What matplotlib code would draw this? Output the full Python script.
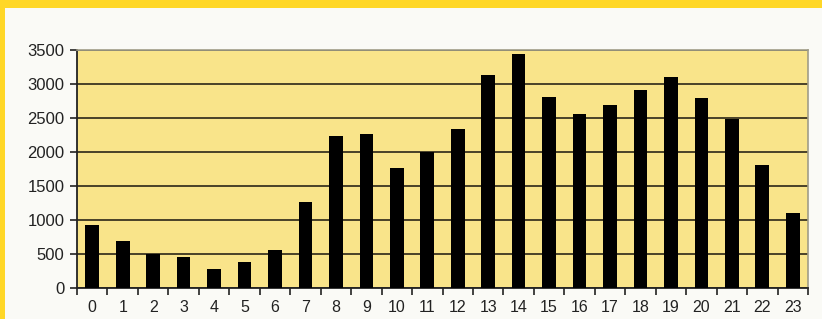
import matplotlib.pyplot as plt
import numpy as np
from matplotlib.patches import Rectangle

hours = list(range(24))
values = [925, 690, 500, 460, 280, 380, 560, 1270, 2240, 2260, 1770, 2000,
          2340, 3130, 3440, 2810, 2560, 2690, 2910, 3110, 2800, 2490, 1810, 1110]
yticks = [0, 500, 1000, 1500, 2000, 2500, 3000, 3500]

plt.rcParams['font.family'] = ['Liberation Sans', 'DejaVu Sans']

fig = plt.figure(figsize=(8.22, 3.19), dpi=100)
fig.patch.set_facecolor('#ffd727')
# pale page inside the yellow frame
fig.patches.append(Rectangle((5 / 822, 0), 1, (319 - 8) / 319, transform=fig.transFigure,
                             facecolor='#fafaf6', edgecolor='none', zorder=-10))

ax = fig.add_axes([77 / 822, 31 / 319, 731 / 822, 238 / 319])
ax.set_zorder(5)
ax.set_facecolor('#f9e48a')

ax.bar(hours, values, width=0.45, color='black', zorder=3)

ax.set_xlim(-0.5, 23.5)
ax.set_ylim(0, 3500)
ax.set_yticks(yticks)
ax.grid(axis='y', color='#3b3420', linewidth=1.3, zorder=1)

# ticks between categories, labels at bar centres
ax.set_xticks(np.arange(-0.5, 24, 1))
ax.set_xticklabels([])
ax.set_xticks(hours, minor=True)
ax.set_xticklabels([str(h) for h in hours], minor=True)
ax.tick_params(axis='x', which='major', direction='out', length=5, width=1.2, color='#222')
ax.tick_params(axis='x', which='minor', length=0, pad=9, labelsize=11.5, labelcolor='#222')
ax.tick_params(axis='y', direction='out', length=5, width=1.2, color='#222',
               labelsize=12, labelcolor='#222', pad=4)

for s in ['top', 'right']:
    ax.spines[s].set_color('#a09d88')
    ax.spines[s].set_linewidth(1.2)
for s in ['left', 'bottom']:
    ax.spines[s].set_color('#222')
    ax.spines[s].set_linewidth(1.3)

fig.savefig('out.png', dpi=100, facecolor=fig.get_facecolor())
